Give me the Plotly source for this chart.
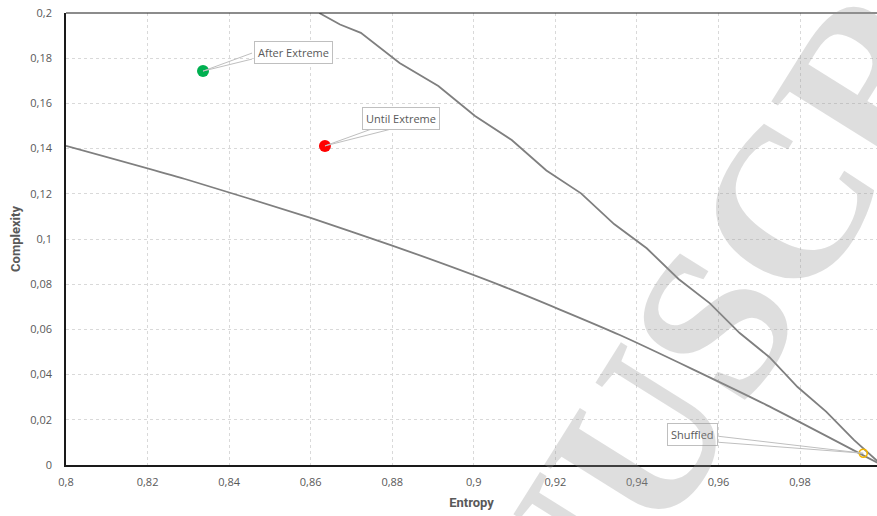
import plotly.graph_objects as go

# Complexity-entropy plane: upper (maximum) and lower (minimum) bounding curves
max_entropy = [0.8621, 0.8672, 0.8723, 0.8818, 0.8913, 0.9003, 0.9093, 0.9178,
               0.9263, 0.9344, 0.9424, 0.9502, 0.9579, 0.9652, 0.9725, 0.9794,
               0.9864, 0.9932, 1.0]
max_complexity = [0.2000, 0.1949, 0.1912, 0.1779, 0.1677, 0.1544, 0.1438, 0.1303,
                  0.1202, 0.1066, 0.0959, 0.0823, 0.0715, 0.0584, 0.0477, 0.0345,
                  0.0236, 0.0111, 0.0]

min_entropy = [0.80, 0.83, 0.86, 0.88, 0.9064, 0.9358, 0.9718, 1.0]
min_complexity = [0.1412, 0.1261, 0.1093, 0.0971, 0.0796, 0.0575, 0.0265, 0.0]

# Series positions in the plane
point_names = ["After Extreme", "Until Extreme", "Shuffled"]
point_entropy = [0.8336, 0.8635, 0.9955]
point_complexity = [0.1743, 0.1412, 0.0052]

x_ticks = [0.80, 0.82, 0.84, 0.86, 0.88, 0.90, 0.92, 0.94, 0.96, 0.98]
x_tick_labels = ["0,8", "0,82", "0,84", "0,86", "0,88", "0,9", "0,92", "0,94", "0,96", "0,98"]
y_ticks = [0, 0.02, 0.04, 0.06, 0.08, 0.10, 0.12, 0.14, 0.16, 0.18, 0.20]
y_tick_labels = ["0", "0,02", "0,04", "0,06", "0,08", "0,1", "0,12", "0,14", "0,16", "0,18", "0,2"]

TEXT = "#595959"
CURVE = "#7f7f7f"
GRID = "#d9d9d9"
CALLOUT = "#bfbfbf"

fig = go.Figure()

fig.add_trace(go.Scatter(x=max_entropy, y=max_complexity, mode="lines",
                         line=dict(color=CURVE, width=1.8), hoverinfo="skip"))
fig.add_trace(go.Scatter(x=min_entropy, y=min_complexity, mode="lines",
                         line=dict(color=CURVE, width=1.8, shape="spline", smoothing=0.6),
                         hoverinfo="skip"))

fig.add_trace(go.Scatter(x=[point_entropy[0]], y=[point_complexity[0]], mode="markers",
                         marker=dict(color="#00b050", size=12), name=point_names[0]))
fig.add_trace(go.Scatter(x=[point_entropy[1]], y=[point_complexity[1]], mode="markers",
                         marker=dict(color="#ff0000", size=12), name=point_names[1]))
fig.add_trace(go.Scatter(x=[point_entropy[2]], y=[point_complexity[2]], mode="markers",
                         marker=dict(symbol="circle-open", color="#f2b400", size=8,
                                     line=dict(width=1.6)), name=point_names[2]))

# Callout label offsets (px from the point) and the two wedge edges ending on the label box
label_offsets = [(90, -19), (76, -27), (-171, -19)]
wedge_edges = [[(49, -18), (49, -12)], [(47, -17), (67, -17)], [(-145, -17), (-145, -11)]]

annotations = []
for name, xe, yc, (dx, dy), edges in zip(point_names, point_entropy, point_complexity,
                                         label_offsets, wedge_edges):
    for ex, ey in edges:
        annotations.append(dict(x=xe, y=yc, xref="x", yref="y", text="", showarrow=True,
                                ax=ex, ay=ey, arrowhead=0, arrowwidth=1, arrowcolor=CALLOUT,
                                borderpad=0, borderwidth=0, standoff=0))
    annotations.append(dict(x=xe, y=yc, xref="x", yref="y", text=name, showarrow=False,
                            xshift=dx, yshift=-dy, bgcolor="white", bordercolor=CALLOUT,
                            borderwidth=1, borderpad=3,
                            font=dict(family="Open Sans", size=11, color=TEXT)))

# Diagonal watermark across the plot
annotations.append(dict(x=0.798, y=0.313, xref="paper", yref="paper", text="<b>MANUSCRIPT</b>",
                        showarrow=False, textangle=-58, xanchor="center", yanchor="middle",
                        font=dict(family="Liberation Serif", size=215,
                                  color="rgba(150,150,150,0.31)")))

fig.update_layout(
    width=877, height=516,
    margin=dict(l=66, r=0, t=13, b=51),
    paper_bgcolor="white", plot_bgcolor="white",
    showlegend=False,
    annotations=annotations,
    shapes=[dict(type="line", xref="paper", yref="paper", x0=0, x1=1, y0=1, y1=1,
                 line=dict(color="#1a1a1a", width=1.2))],
)

fig.update_xaxes(range=[0.8, 0.99887], tickvals=x_ticks, ticktext=x_tick_labels,
                 showgrid=True, gridcolor=GRID, griddash="3px,3px", gridwidth=1,
                 showline=True, linecolor="#1a1a1a", linewidth=1.6, zeroline=False,
                 ticks="", ticklabelstandoff=6,
                 tickfont=dict(family="Open Sans", size=11, color=TEXT),
                 title=dict(text="<b>Entropy</b>", standoff=10,
                            font=dict(family="Liberation Sans Narrow, Roboto", size=13, color=TEXT)))
fig.update_yaxes(range=[0, 0.2], tickvals=y_ticks, ticktext=y_tick_labels,
                 showgrid=True, gridcolor=GRID, griddash="3px,3px", gridwidth=1,
                 showline=True, linecolor="#1a1a1a", linewidth=1.6, zeroline=False,
                 ticks="", ticklabelstandoff=10,
                 tickfont=dict(family="Open Sans", size=11, color=TEXT),
                 title=dict(text="<b>Complexity</b>", standoff=7,
                            font=dict(family="Liberation Sans Narrow, Roboto", size=13, color=TEXT)))

fig.write_html("out.html")
